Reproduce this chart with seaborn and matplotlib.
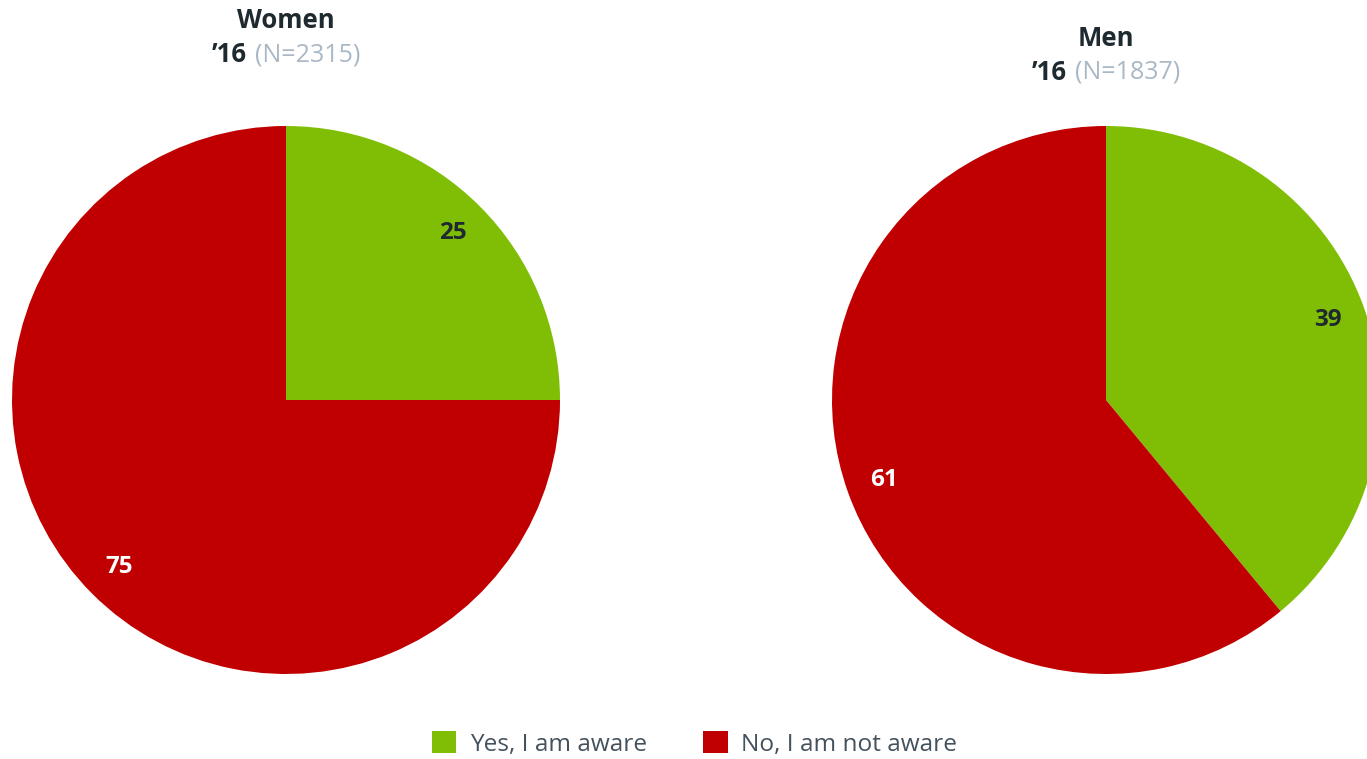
import matplotlib
matplotlib.use("Agg")
import matplotlib.pyplot as plt
from matplotlib.patches import Patch
import seaborn as sns

# data
groups = ["Women", "Men"]
years = ["\u201916", "\u201916"]
sample_sizes = ["(N=2315)", "(N=1837)"]
categories = ["Yes, I am aware", "No, I am not aware"]
women_values = [25, 75]
men_values = [39, 61]

sns.set_theme(style="white")
plt.rcParams['font.family'] = ['Open Sans', 'DejaVu Sans']

colors = ["#80BE06", "#C00000"]
label_colors = ["#1F2A30", "#FFFFFF"]
dark = "#1F2A30"
gray = "#AAB8C5"

W, H = 1367, 759
fig = plt.figure(figsize=(W / 100, H / 100), dpi=100)
fig.patch.set_facecolor("white")

# pie centre (px), radius (px), title y (px)
layout = [(286, 400, 274, 21), (1106, 400, 274, 38)]
values = [women_values, men_values]

for i, (cx, cy, r, ty) in enumerate(layout):
    ax = fig.add_axes([(cx - r) / W, (H - cy - r) / H, 2 * r / W, 2 * r / H])
    wedges, _, autotexts = ax.pie(
        values[i], colors=colors, startangle=90, counterclock=False,
        autopct=lambda p: f"{p:.0f}", pctdistance=0.86, radius=1,
        wedgeprops=dict(linewidth=0))
    for t, c in zip(autotexts, label_colors):
        t.set_color(c)
        t.set_fontsize(17.5)
        t.set_fontweight("bold")
    ax.set_xlim(-1, 1)
    ax.set_ylim(-1, 1)
    ax.set_aspect("equal")
    ax.axis("off")

    fig.text(cx / W, 1 - ty / H, groups[i], ha="center", va="center",
             fontsize=18.5, fontweight="bold", color=dark)
    fig.text((cx - 39) / W, 1 - (ty + 34) / H, years[i], ha="right", va="center",
             fontsize=18.5, fontweight="bold", color=dark)
    fig.text((cx - 31) / W, 1 - (ty + 34) / H, sample_sizes[i], ha="left", va="center",
             fontsize=18, color=gray)

handles = [Patch(facecolor=c, edgecolor="none", label=l) for c, l in zip(colors, categories)]
fig.legend(handles=handles, loc="center", bbox_to_anchor=(0.508, 1 - 744 / H), ncol=2,
           frameon=False, fontsize=17.6, handlelength=1.0, handleheight=1.0,
           handletextpad=0.55, columnspacing=2.3, labelcolor="#44525E")

fig.savefig("out.png", dpi=100)
